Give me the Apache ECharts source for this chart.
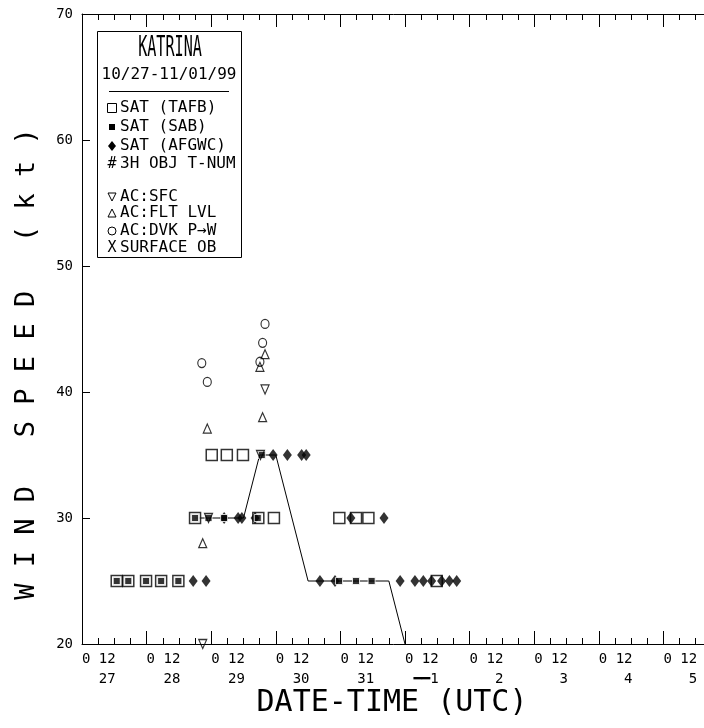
<!DOCTYPE html>
<html>
<head>
<meta charset="utf-8">
<title>Katrina 10/27-11/01/99 wind speed</title>
<script src="https://cdn.jsdelivr.net/npm/echarts@6/dist/echarts.min.js"></script>
<style>
html, body { margin: 0; padding: 0; background: #fff; }
#chart { width: 704px; height: 728px; }
</style>
</head>
<body>
<div id="chart"></div>
<script>
// times are hours after 27 Oct 00 UTC, speeds in kt
var dayLabels = ['27', '28', '29', '30', '31', '\u2501\u25011', '2', '3', '4', '5', '6'];
var hourLabels = ['0', '12'];

var bestHours = [42, 48, 54, 60, 66, 72, 78, 84, 90, 96, 102, 108, 114, 120];
var bestKt    = [30, 30, 30, 30, 35, 35, 30, 25, 25, 25, 25, 25, 25, 20];

var tafbHours = [12.9, 17.2, 23.8, 29.4, 35.8, 42, 48.2, 53.8, 59.8, 65.5, 71.3, 95.6, 101.8, 106.4, 131.8];
var tafbKt    = [25, 25, 25, 25, 25, 30, 35, 35, 35, 30, 30, 30, 30, 30, 25];

var sabHours = [12.9, 17.2, 23.8, 29.4, 35.8, 42, 47, 52.8, 65.3, 66.8, 95.5, 101.8, 107.6];
var sabKt    = [25, 25, 25, 25, 25, 30, 30, 30, 30, 35, 25, 25, 25];

var afgwcHours = [41.3, 46.1, 52.8, 58, 59.4, 64.3, 71, 76.3, 81.6, 83.3, 88.4, 94, 99.9, 112.2,
                  118.2, 123.7, 126.8, 129.9, 133.6, 136.5, 139.2];
var afgwcKt    = [25, 25, 30, 30, 30, 30, 35, 35, 35, 35, 25, 25, 30, 30,
                  25, 25, 25, 25, 25, 25, 25];

var sfcHours = [44.85, 47, 66.3, 68];
var sfcKt    = [20, 30, 35, 40.2];

var fltHours = [44.85, 46.55, 66.1, 67.1, 68];
var fltKt    = [28, 37.1, 42, 38, 43];

var dvkHours = [44.5, 46.55, 66.1, 67.1, 68];
var dvkKt    = [42.3, 40.8, 42.4, 43.9, 45.4];

var legendRows = [
	{sym: 'tafb', text: 'SAT (TAFB)', y: 108},
	{sym: 'sab', text: 'SAT (SAB)', y: 127},
	{sym: 'afgwc', text: 'SAT (AFGWC)', y: 146},
	{sym: 'hash', text: '3H OBJ T-NUM', y: 164},
	{sym: 'sfc', text: 'AC:SFC', y: 197},
	{sym: 'flt', text: 'AC:FLT LVL', y: 213},
	{sym: 'dvk', text: 'AC:DVK P\u2192W', y: 231},
	{sym: 'sfcob', text: 'SURFACE OB', y: 248}
];

var MONO = 'DejaVu Sans Mono';

function zip(xs, ys){
	var out = [];
	for (var i = 0; i < xs.length; i++){
		out.push([xs[i], ys[i]]);
	}
	return out;
}

function pad(s, n){
	while (s.length < n) s = ' ' + s;
	return s;
}

function legendSymbol(sym, y){
	var x = 112;
	var black = {fill: '#000'};
	var hollow = {fill: 'none', stroke: '#000', lineWidth: 1};
	switch (sym){
		case 'tafb': return {type: 'rect', shape: {x: x - 4.5, y: y - 4.5, width: 9, height: 9}, style: hollow};
		case 'sab': return {type: 'rect', shape: {x: x - 3, y: y - 3, width: 6, height: 6}, style: black};
		case 'afgwc': return {type: 'polygon', shape: {points: [[x, y - 5], [x + 4, y], [x, y + 5], [x - 4, y]]}, style: black};
		case 'sfc': return {type: 'polygon', shape: {points: [[x - 4, y - 4], [x + 4, y - 4], [x, y + 4]]}, style: hollow};
		case 'flt': return {type: 'polygon', shape: {points: [[x, y - 4], [x + 4, y + 4], [x - 4, y + 4]]}, style: hollow};
		case 'dvk': return {type: 'circle', shape: {cx: x, cy: y, r: 4}, style: hollow};
		case 'hash': return {type: 'text', x: x, y: y, style: {text: '#', font: '15px ' + MONO, fill: '#000', align: 'center', verticalAlign: 'middle'}};
		default: return {type: 'text', x: x, y: y, style: {text: 'X', font: '15px ' + MONO, fill: '#000', align: 'center', verticalAlign: 'middle'}};
	}
}

function buildLegend(){
	var els = [
		{type: 'rect', shape: {x: 97.5, y: 31.5, width: 144, height: 226}, style: {fill: '#fff', stroke: '#000', lineWidth: 1}},
		{type: 'text', x: 170, y: 49, scaleX: 0.54, style: {text: 'KATRINA', font: '28px ' + MONO, fill: '#000', align: 'center', verticalAlign: 'middle'}},
		{type: 'text', x: 169, y: 75, style: {text: '10/27-11/01/99', font: '16px ' + MONO, fill: '#000', align: 'center', verticalAlign: 'middle'}},
		{type: 'line', shape: {x1: 109, y1: 91.5, x2: 229, y2: 91.5}, style: {stroke: '#000', lineWidth: 1}}
	];
	legendRows.forEach(function(row){
		els.push(legendSymbol(row.sym, row.y));
		els.push({type: 'text', x: 120, y: row.y, style: {text: row.text, font: '16px ' + MONO, fill: '#000', align: 'left', verticalAlign: 'middle'}});
	});
	return {type: 'group', z: 100, children: els};
}

var tickStyle = {color: '#000', width: 1};

var chart = echarts.init(document.getElementById('chart'), null, {renderer: 'canvas'});
var option = {
	animation: false,
	backgroundColor: '#fff',
	textStyle: {fontFamily: MONO, color: '#000'},
	grid: {left: 82, top: 14, right: -24, bottom: 84, outerBoundsMode: 'none', containLabel: false},
	xAxis: [
		{
			type: 'value', position: 'bottom', min: 0, max: 240, interval: 24,
			axisLine: {show: true, lineStyle: tickStyle},
			axisTick: {show: true, inside: true, length: 13, lineStyle: tickStyle},
			minorTick: {show: true, splitNumber: 4, length: 6, lineStyle: tickStyle},
			splitLine: {show: false},
			axisLabel: {
				show: true, align: 'left', margin: 5, fontSize: 14, lineHeight: 20, color: '#000', fontFamily: MONO,
				formatter: function(v){
					var d = Math.round(v / 24);
					return hourLabels[0] + ' ' + hourLabels[1] + '\n' + pad(dayLabels[d] || '', 4);
				}
			},
			name: 'DATE-TIME (UTC)', nameLocation: 'middle', nameGap: 44, nameMoveOverlap: false,
			nameTextStyle: {fontSize: 30, color: '#000', fontFamily: MONO, padding: [0, 26, 0, 0]}
		},
		{
			type: 'value', position: 'top', min: 0, max: 240, interval: 24,
			axisLine: {show: true, lineStyle: tickStyle},
			axisTick: {show: true, inside: true, length: 13, lineStyle: tickStyle},
			minorTick: {show: true, splitNumber: 4, length: 6, lineStyle: tickStyle},
			splitLine: {show: false},
			axisLabel: {show: false}
		}
	],
	yAxis: {
		type: 'value', min: 20, max: 70, interval: 10,
		axisLine: {show: true, lineStyle: tickStyle},
		axisTick: {show: true, inside: true, length: 8, lineStyle: tickStyle},
		splitLine: {show: false},
		axisLabel: {margin: 9, fontSize: 14, color: '#000', fontFamily: MONO},
		name: 'W I N D   S P E E D   ( k t )', nameLocation: 'middle', nameRotate: 90, nameGap: 42,
		nameTextStyle: {fontSize: 27, color: '#000', fontFamily: MONO, padding: [0, 70, 0, 0]}
	},
	graphic: [buildLegend()],
	series: [
		{
			name: 'BEST TRACK', type: 'line', data: zip(bestHours, bestKt), symbol: 'none', z: 1,
			lineStyle: {color: '#000', width: 1}
		},
		{
			name: 'SAT (TAFB)', type: 'scatter', data: zip(tafbHours, tafbKt), symbol: 'rect', symbolSize: 11,
			itemStyle: {color: '#fff', borderColor: '#000', borderWidth: 1.5}
		},
		{
			name: 'SAT (AFGWC)', type: 'scatter', data: zip(afgwcHours, afgwcKt), symbol: 'diamond', symbolSize: [9, 12],
			itemStyle: {color: '#000'}
		},
		{
			name: 'SAT (SAB)', type: 'scatter', data: zip(sabHours, sabKt), symbol: 'rect', symbolSize: 7,
			itemStyle: {color: '#000', borderColor: '#fff', borderWidth: 1}
		},
		{
			name: 'AC:SFC', type: 'scatter', data: zip(sfcHours, sfcKt), symbol: 'triangle', symbolRotate: 180, symbolSize: [8, 9],
			itemStyle: {color: 'rgba(0,0,0,0)', borderColor: '#000', borderWidth: 1.2}
		},
		{
			name: 'AC:FLT LVL', type: 'scatter', data: zip(fltHours, fltKt), symbol: 'triangle', symbolSize: [8, 9],
			itemStyle: {color: 'rgba(0,0,0,0)', borderColor: '#000', borderWidth: 1.2}
		},
		{
			name: 'AC:DVK P\u2192W', type: 'scatter', data: zip(dvkHours, dvkKt), symbol: 'circle', symbolSize: [8, 9],
			itemStyle: {color: 'rgba(0,0,0,0)', borderColor: '#000', borderWidth: 1.2}
		}
	]
};
chart.setOption(option);
</script>
</body>
</html>
